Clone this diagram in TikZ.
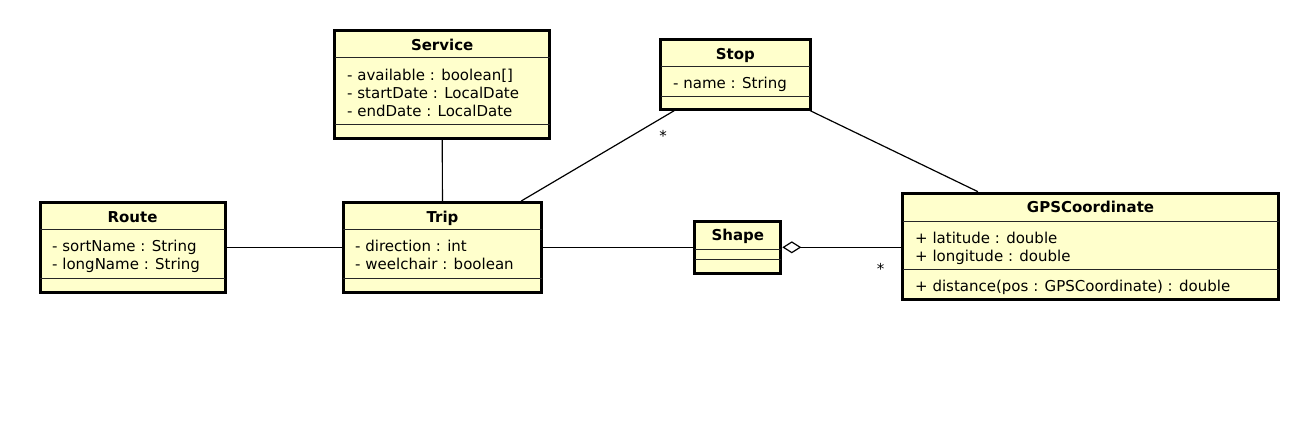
\documentclass[tikz,border=0pt]{standalone}
\usepackage{fontspec}
\setmainfont{DejaVu Sans}
\usetikzlibrary{arrows.meta}
\definecolor{classfill}{HTML}{FFFFCC}

\begin{document}
\begin{tikzpicture}[x=1pt,y=-1pt,
      classbox/.style={draw=black,line width=3pt,fill=classfill,inner sep=0pt},
      divider/.style={line width=1pt,black!85},
      cname/.style={anchor=base,inner sep=0pt,font=\fontsize{15}{18}\selectfont\bfseries},
      member/.style={anchor=base west,inner sep=0pt,font=\fontsize{15}{18}\selectfont},
      mult/.style={anchor=base,inner sep=0pt,font=\fontsize{15}{18}\selectfont},
      assoc/.style={line width=1.2pt}]
      \useasboundingbox (0,0) rectangle (1308,426);
      % class boxes
      \node [classbox,minimum width=185pt,minimum height=90pt] (route) at (132.5,247.5) {};
      \node [classbox,minimum width=198.6pt,minimum height=90pt] (trip) at (442.5,247.5) {};
      \node [classbox,minimum width=214.7pt,minimum height=108pt] (service) at (442.2,84.5) {};
      \node [classbox,minimum width=149.7pt,minimum height=69.4pt] (stop) at (735.3,74.5) {};
      \node [classbox,minimum width=86pt,minimum height=52pt] (shape) at (737.8,247.3) {};
      \node [classbox,minimum width=376pt,minimum height=106pt] (gps) at (1090.5,246.2) {};
      % compartments
      \draw [divider] (40,229.5) -- (225,229.5);
      \draw [divider] (40,278.5) -- (225,278.5);
      \draw [divider] (343.2,229.5) -- (541.8,229.5);
      \draw [divider] (343.2,278.5) -- (541.8,278.5);
      \draw [divider] (334.8,57.3) -- (549.5,57.3);
      \draw [divider] (334.8,124.3) -- (549.5,124.3);
      \draw [divider] (660.5,66.7) -- (810.2,66.7);
      \draw [divider] (660.5,96) -- (810.2,96);
      \draw [divider] (694.8,249.3) -- (780.8,249.3);
      \draw [divider] (694.8,259.3) -- (780.8,259.3);
      \draw [divider] (902.5,221.7) -- (1278.5,221.7);
      \draw [divider] (902.5,269.3) -- (1278.5,269.3);
      % Route
      \node [cname] (routename) at (132.5,222) {Route};
      \node [member] (sortname) at (52,251) {- sortName : String};
      \node [member] (longname) at (52,269) {- longName : String};
      % Trip
      \node [cname] (tripname) at (442.5,222) {Trip};
      \node [member] (direction) at (355,251) {- direction : int};
      \node [member] (weelchair) at (355,269) {- weelchair : boolean};
      % Service
      \node [cname] (servicename) at (442.2,50) {Service};
      \node [member] (available) at (347,80.5) {- available : boolean[]};
      \node [member] (startdate) at (347,98.5) {- startDate : LocalDate};
      \node [member] (enddate) at (347,116.5) {- endDate : LocalDate};
      % Stop
      \node [cname] (stopname) at (735.3,59.3) {Stop};
      \node [member] (name) at (673,88.3) {- name : String};
      % Shape
      \node [cname] (shapename) at (737.8,240.5) {Shape};
      % GPSCoordinate
      \node [cname] (gpsname) at (1090.5,212.5) {GPSCoordinate};
      \node [member] (latitude) at (915,243.7) {+ latitude : double};
      \node [member] (longitude) at (915,261.7) {+ longitude : double};
      \node [member] (distance) at (915,291.3) {+ distance(pos : GPSCoordinate) : double};
      % associations
      \draw [assoc] (route) -- (trip);
      \draw [assoc] (service) -- (trip);
      \draw [assoc] (trip) -- (stop);
      \draw [assoc] (stop) -- (gps);
      \draw [assoc] (shape.west) -- (shape.west -| trip.east);
      \draw [assoc,{Diamond[fill=white,length=19pt,width=12pt]}-] (shape.east) -- (shape.east -| gps.west);
      \node [mult] (stopmult) at (663,141) {*};
      \node [mult] (gpsmult) at (880.5,274) {*};
    \end{tikzpicture}
\end{document}
